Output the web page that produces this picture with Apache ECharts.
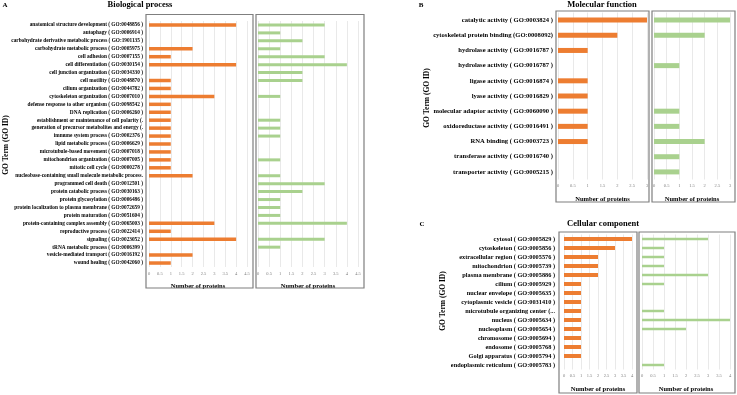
<!DOCTYPE html>
<html style="height: 100%">
<head>
	<meta charset="utf-8">
</head>
<body style="height: 100%; margin: 0; background: #fff">
<div id="container" style="width: 737px; height: 395px"></div>
<script type="text/javascript" src="https://cdn.jsdelivr.net/npm/echarts@6/dist/echarts.min.js"></script>
<script type="text/javascript">
    // A - Biological process
    var bpTerms = [
        'anatomical structure development ( GO:0048856 )',
        'autophagy ( GO:0006914 )',
        'carbohydrate derivative metabolic process ( GO:1901135 )',
        'carbohydrate metabolic process ( GO:0005975 )',
        'cell adhesion ( GO:0007155 )',
        'cell differentiation ( GO:0030154 )',
        'cell junction organization ( GO:0034330 )',
        'cell motility ( GO:0048870 )',
        'cilium organization ( GO:0044782 )',
        'cytoskeleton organization ( GO:0007010 )',
        'defense response to other organism ( GO:0098542 )',
        'DNA replication ( GO:0006260 )',
        'establishment or maintenance of cell polarity (.',
        'generation of precursor metabolites and energy (.',
        'immune system process ( GO:0002376 )',
        'lipid metabolic process ( GO:0006629 )',
        'microtubule-based movement ( GO:0007018 )',
        'mitochondrion organization ( GO:0007005 )',
        'mitotic cell cycle ( GO:0000278 )',
        'nucleobase-containing small molecule metabolic process.',
        'programmed cell death ( GO:0012501 )',
        'protein catabolic process ( GO:0030163 )',
        'protein glycosylation ( GO:0006486 )',
        'protein localization to plasma membrane ( GO:0072659 )',
        'protein maturation ( GO:0051604 )',
        'protein-containing complex assembly ( GO:0065003 )',
        'reproductive process ( GO:0022414 )',
        'signaling ( GO:0023052 )',
        'tRNA metabolic process ( GO:0006399 )',
        'vesicle-mediated transport ( GO:0016192 )',
        'wound healing ( GO:0042060 )'
    ];
    var bpOrange = [4, 0, 0, 2, 1, 4, 0, 1, 1, 3, 1, 1, 1, 1, 1, 1, 1, 1, 1, 2, 0, 0, 0, 0, 0, 3, 1, 4, 0, 2, 1];
    var bpGreen = [3, 1, 2, 1, 3, 4, 2, 2, 0, 1, 0, 0, 1, 1, 1, 0, 0, 1, 0, 1, 3, 2, 1, 1, 1, 4, 0, 3, 1, 0, 0];

    // B - Molecular function
    var mfTerms = [
        'catalytic activity ( GO:0003824 )',
        'cytoskeletal protein binding (GO:0008092)',
        'hydrolase activity ( GO:0016787 )',
        'hydrolase activity ( GO:0016787 )',
        'ligase activity ( GO:0016874 )',
        'lyase activity ( GO:0016829 )',
        'molecular adaptor activity ( GO:0060090 )',
        'oxidoreductase activity ( GO:0016491 )',
        'RNA binding ( GO:0003723 )',
        'transferase activity ( GO:0016740 )',
        'transporter activity ( GO:0005215 )'
    ];
    var mfOrange = [3, 2, 1, 0, 1, 1, 1, 1, 1, 0, 0];
    var mfGreen = [3, 2, 0, 1, 0, 0, 1, 1, 2, 1, 1];

    // C - Cellular component
    var ccTerms = [
        'cytosol ( GO:0005829 )',
        'cytoskeleton ( GO:0005856 )',
        'extracellular region ( GO:0005576 )',
        'mitochondrion ( GO:0005739 )',
        'plasma membrane ( GO:0005886 )',
        'cilium ( GO:0005929 )',
        'nuclear envelope ( GO:0005635 )',
        'cytoplasmic vesicle ( GO:0031410 )',
        'microtubule organizing center (...',
        'nucleus ( GO:0005634 )',
        'nucleoplasm ( GO:0005654 )',
        'chromosome ( GO:0005694 )',
        'endosome ( GO:0005768 )',
        'Golgi apparatus ( GO:0005794 )',
        'endoplasmic reticulum ( GO:0005783 )'
    ];
    var ccOrange = [4, 3, 2, 2, 2, 1, 1, 1, 1, 1, 1, 1, 1, 1, 0];
    var ccGreen = [3, 1, 1, 1, 3, 1, 0, 0, 1, 4, 2, 0, 0, 0, 1];

    var ORANGE = '#ED7D31';
    var GREEN = '#A9D18E';
    var SERIF = '"Liberation Serif", "DejaVu Serif", serif';
    var FRAME = '#7f7f7f';

    var dom = document.getElementById("container");
    var myChart = echarts.init(dom);

    var grids = [], xAxes = [], yAxes = [], series = [];

    // one plot panel: grid + axes + bars
    function addPanel(box, terms, values, color, xMax, barW, labelSize, labelMargin, showLabels) {
        var idx = grids.length;
        grids.push({
            left: box[0], top: box[1], width: box[2], height: box[3],
            outerBoundsMode: 'none', containLabel: false
        });
        xAxes.push({
            gridIndex: idx, type: 'value', min: 0, max: xMax, interval: 0.5,
            name: 'Number of proteins', nameLocation: 'middle', nameGap: 16,
            nameTextStyle: {fontFamily: SERIF, fontWeight: 'bold', fontSize: 6.5, color: '#000'},
            axisLine: {show: false}, axisTick: {show: false},
            axisLabel: {fontSize: 4.5, color: '#7f7f7f', margin: 4, fontFamily: SERIF},
            splitLine: {show: true, lineStyle: {color: '#e3e3e3', width: 0.8}}
        });
        yAxes.push({
            gridIndex: idx, type: 'category', data: terms, inverse: true,
            axisLine: {show: false}, axisTick: {show: false},
            axisLabel: {
                show: showLabels, interval: 0, fontSize: labelSize, margin: labelMargin,
                fontFamily: SERIF, fontWeight: 'bold', color: '#000'
            }
        });
        series.push({
            type: 'bar', xAxisIndex: idx, yAxisIndex: idx, data: values,
            barWidth: barW, itemStyle: {color: color}, silent: true
        });
    }

    addPanel([149, 21, 98, 246], bpTerms, bpOrange, ORANGE, 4.5, 3.5, 5.3, 6, true);
    addPanel([258, 21, 100, 246], bpTerms, bpGreen, GREEN, 4.5, 3, 5.3, 6, false);
    addPanel([558, 12.5, 89, 167], mfTerms, mfOrange, ORANGE, 3, 5, 6.6, 5, true);
    addPanel([654, 12.5, 76, 167], mfTerms, mfGreen, GREEN, 3, 5, 6.6, 5, false);
    addPanel([564, 234.5, 68, 135], ccTerms, ccOrange, ORANGE, 4, 4, 6.3, 9, true);
    addPanel([642, 234.5, 88, 135], ccTerms, ccGreen, GREEN, 4, 2.5, 6.3, 9, false);

    function frame(x, y, w, h) {
        return {
            type: 'rect', silent: true, z: 10,
            shape: {x: x, y: y, width: w, height: h},
            style: {fill: null, stroke: FRAME, lineWidth: 1.2}
        };
    }
    function text(str, x, y, size, rot) {
        return {
            type: 'text', x: x, y: y, rotation: rot || 0, silent: true,
            style: {
                text: str, fontSize: size, fontWeight: 'bold', fontFamily: SERIF,
                fill: '#000', align: 'center', verticalAlign: 'middle'
            }
        };
    }

    var graphics = [
        frame(146, 14.5, 107, 273.5), frame(256, 14.5, 108, 273.5),
        frame(556, 11, 93, 191), frame(652, 11, 83, 191),
        frame(559, 232, 78, 161), frame(639, 232, 96, 161),
        text('A', 5, 5, 7), text('B', 421, 5, 7), text('C', 422, 224, 7),
        text('Biological process', 140, 5, 8.5),
        text('Molecular function', 602, 5, 8.5),
        text('Cellular component', 603, 224, 8.5),
        text('GO Term (GO ID)', 6, 145, 7.5, Math.PI / 2),
        text('GO Term (GO ID)', 427, 98, 7.5, Math.PI / 2),
        text('GO Term (GO ID)', 443, 301, 7.5, Math.PI / 2)
    ];

    myChart.setOption({
        backgroundColor: '#fff',
        animation: false,
        grid: grids,
        xAxis: xAxes,
        yAxis: yAxes,
        series: series,
        graphic: graphics
    });
</script>
</body>
</html>
